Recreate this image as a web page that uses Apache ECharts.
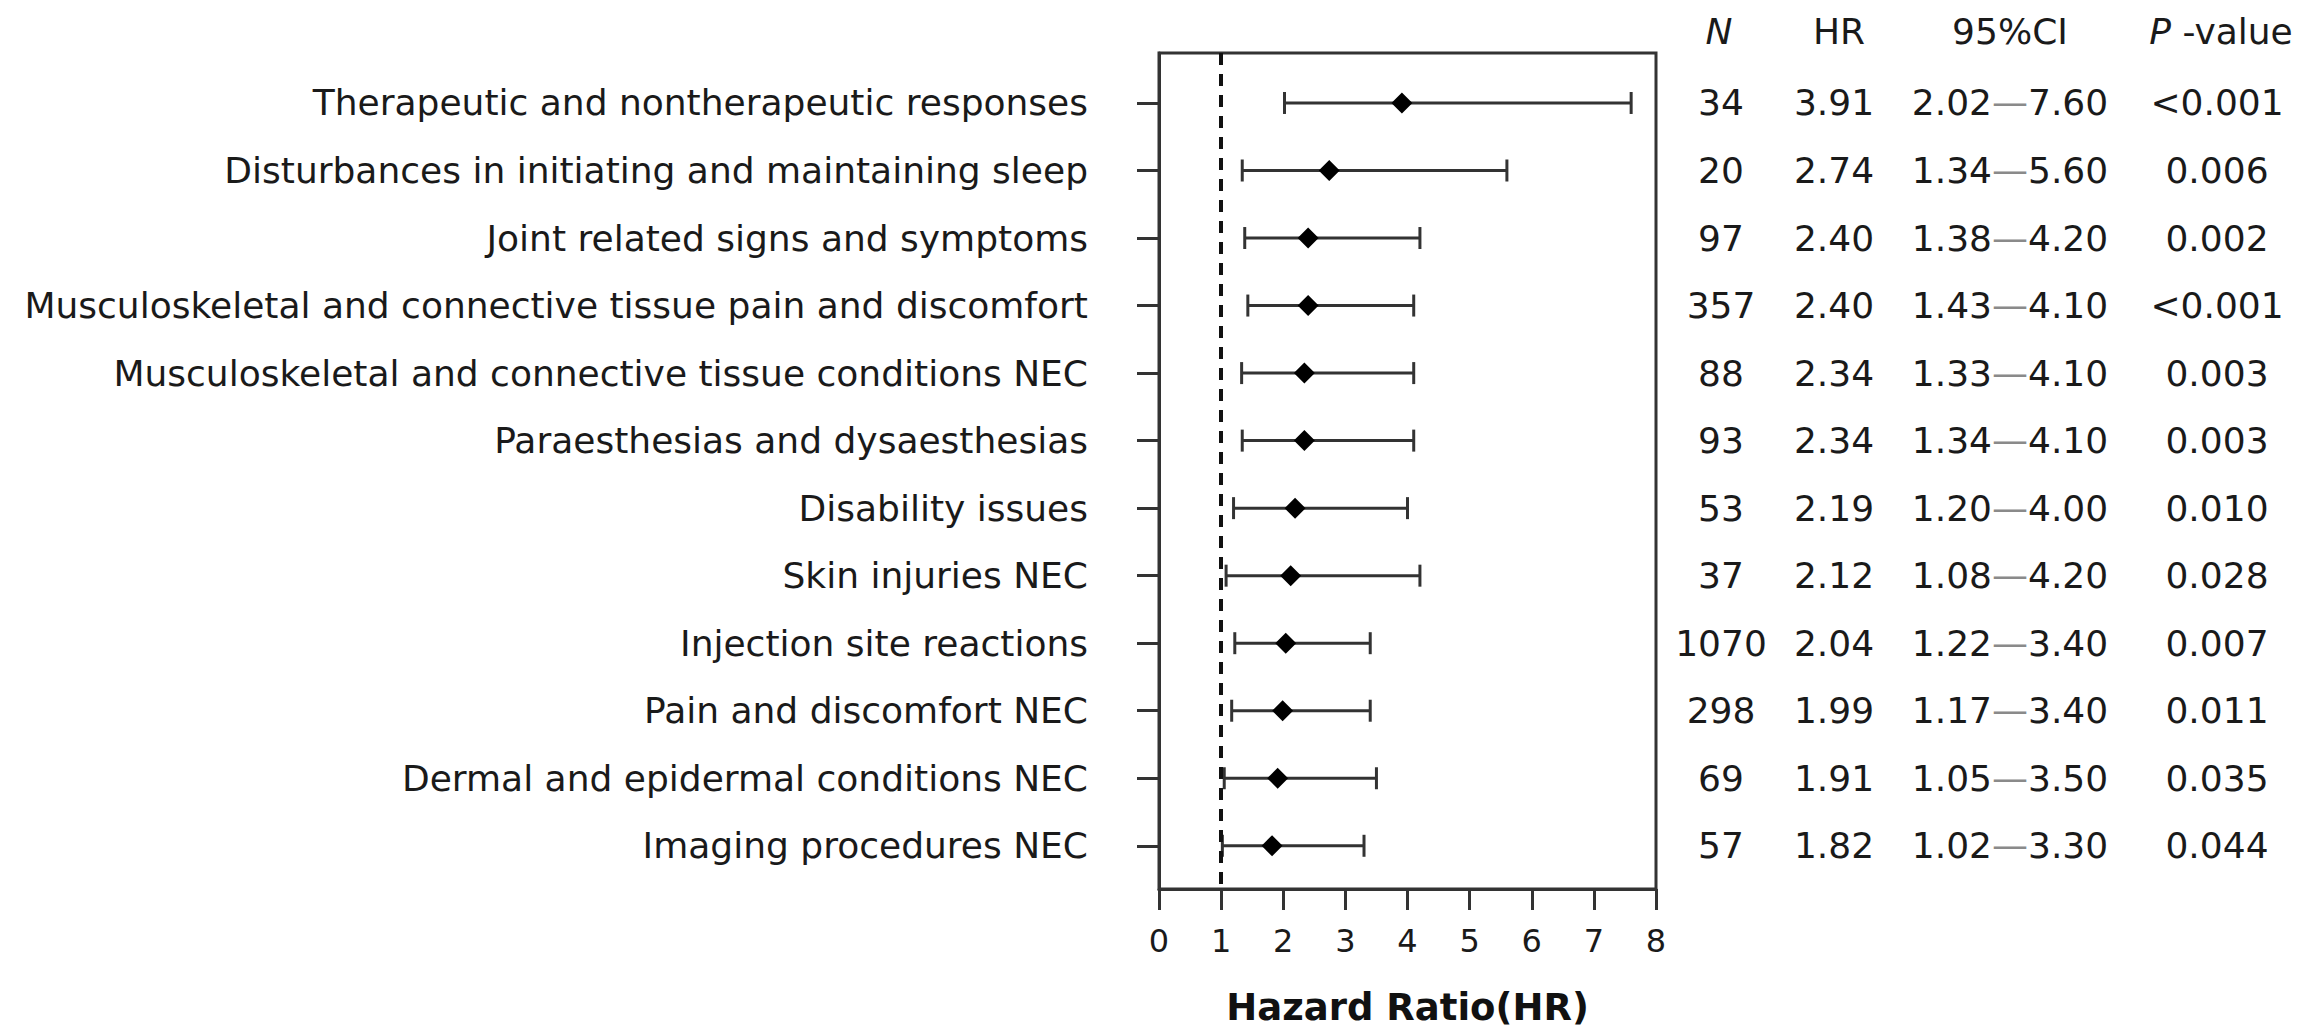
<!DOCTYPE html>
<html>
<head>
<meta charset="utf-8">
<script src="https://cdn.jsdelivr.net/npm/echarts@6/dist/echarts.min.js"></script>
<style>
html,body{margin:0;padding:0;background:#fff;}
#c{width:2298px;height:1032px;}
</style>
</head>
<body>
<div id="c"></div>
<script>
// ---- data (top row first) ----
const categories = [
  'Therapeutic and nontherapeutic responses',
  'Disturbances in initiating and maintaining sleep',
  'Joint related signs and symptoms',
  'Musculoskeletal and connective tissue pain and discomfort',
  'Musculoskeletal and connective tissue conditions NEC',
  'Paraesthesias and dysaesthesias',
  'Disability issues',
  'Skin injuries NEC',
  'Injection site reactions',
  'Pain and discomfort NEC',
  'Dermal and epidermal conditions NEC',
  'Imaging procedures NEC'
];
const nValues  = [34, 20, 97, 357, 88, 93, 53, 37, 1070, 298, 69, 57];
const hrValues = [3.91, 2.74, 2.40, 2.40, 2.34, 2.34, 2.19, 2.12, 2.04, 1.99, 1.91, 1.82];
const ciLower  = [2.02, 1.34, 1.38, 1.43, 1.33, 1.34, 1.20, 1.08, 1.22, 1.17, 1.05, 1.02];
const ciUpper  = [7.60, 5.60, 4.20, 4.10, 4.10, 4.10, 4.00, 4.20, 3.40, 3.40, 3.50, 3.30];
const pValues  = ['<0.001', '0.006', '0.002', '<0.001', '0.003', '0.003', '0.010', '0.028', '0.007', '0.011', '0.035', '0.044'];
const xTicks   = [0, 1, 2, 3, 4, 5, 6, 7, 8];
const refValue = 1;
const headers  = ['N', 'HR', '95%CI', 'P-value'];
const rows = categories.map((_, i) => i + 1);

const FONT = 'DejaVu Sans';
const TXT = '#1a1a1a';
const LINE = '#333333';

const chart = echarts.init(document.getElementById('c'), null, { renderer: 'svg' });

const option = {
  animation: false,
  backgroundColor: '#ffffff',
  grid: {
    left: 1159, right: 642, top: 53, bottom: 143,
    show: true, borderColor: LINE, borderWidth: 3, backgroundColor: 'transparent'
  },
  xAxis: {
    type: 'value',
    min: xTicks[0], max: xTicks[xTicks.length - 1], interval: 1,
    axisLine: { show: true, lineStyle: { color: LINE, width: 3 } },
    axisTick: { show: true, inside: false, length: 21, lineStyle: { color: LINE, width: 3 } },
    axisLabel: { fontSize: 32, fontFamily: FONT, color: TXT, margin: 36 },
    splitLine: { show: false },
    name: 'Hazard Ratio(HR)',
    nameLocation: 'middle',
    nameGap: 100,
    nameTextStyle: { fontSize: 37, fontWeight: 'bold', fontFamily: FONT, color: '#111' }
  },
  yAxis: {
    type: 'value',
    inverse: true,
    min: 0.26, max: 12.64,
    axisLine: { show: true, lineStyle: { color: LINE, width: 3 } },
    axisTick: { show: true, inside: false, length: 22, customValues: rows, lineStyle: { color: LINE, width: 3 } },
    axisLabel: {
      customValues: rows,
      formatter: v => categories[Math.round(v) - 1] || '',
      fontSize: 36, fontFamily: FONT, color: TXT, margin: 71
    },
    splitLine: { show: false }
  },
  series: [
    {
      type: 'custom',
      name: 'CI',
      data: rows.map((r, i) => [ciLower[i], ciUpper[i], r]),
      encode: { x: [0, 1], y: 2 },
      z: 2,
      renderItem: function (params, api) {
        const lo = api.coord([api.value(0), api.value(2)]);
        const hi = api.coord([api.value(1), api.value(2)]);
        const h = 11;
        const st = { stroke: LINE, lineWidth: 3 };
        return {
          type: 'group',
          children: [
            { type: 'line', shape: { x1: lo[0], y1: lo[1], x2: hi[0], y2: hi[1] }, style: st },
            { type: 'line', shape: { x1: lo[0], y1: lo[1] - h, x2: lo[0], y2: lo[1] + h }, style: st },
            { type: 'line', shape: { x1: hi[0], y1: hi[1] - h, x2: hi[0], y2: hi[1] + h }, style: st }
          ]
        };
      }
    },
    {
      type: 'scatter',
      name: 'HR',
      data: rows.map((r, i) => [hrValues[i], r]),
      symbol: 'diamond',
      symbolSize: 21,
      itemStyle: { color: '#000000', opacity: 1 },
      z: 3,
      markLine: {
        silent: true,
        symbol: ['none', 'none'],
        label: { show: false },
        lineStyle: { type: [12, 9], width: 4, color: '#111111' },
        data: [{ xAxis: refValue }]
      }
    },
    {
      type: 'custom',
      name: 'table',
      clip: false,
      data: rows.map((r, i) => [0, r, i]),
      encode: { x: 0, y: 1 },
      renderItem: function (params, api) {
        const i = api.value(2);
        const cs = params.coordSys;
        const R = cs.x + cs.width;
        const y = api.coord([0, api.value(1)])[1];
        const base = { fontSize: 36, fontFamily: FONT, fill: TXT, align: 'center', verticalAlign: 'middle' };
        const children = [
          { type: 'text', x: R + 65, y: y, style: Object.assign({}, base, { text: String(nValues[i]) }) },
          { type: 'text', x: R + 178, y: y, style: Object.assign({}, base, { text: hrValues[i].toFixed(2) }) },
          { type: 'text', x: R + 354, y: y, style: Object.assign({}, base, {
              text: '{v|' + ciLower[i].toFixed(2) + '}{d|\u2014}{v|' + ciUpper[i].toFixed(2) + '}',
              rich: {
                v: { fontSize: 36, fontFamily: FONT, fill: TXT },
                d: { fontSize: 36, fontFamily: FONT, fill: '#8a8a8a' }
              }
            }) },
          { type: 'text', x: R + 561, y: y, style: Object.assign({}, base, { text: pValues[i] }) }
        ];
        if (i === 0) {
          const hy = cs.y - 22;
          children.push(
            { type: 'text', x: R + 63, y: hy, style: Object.assign({}, base, { text: headers[0], fontStyle: 'italic' }) },
            { type: 'text', x: R + 183, y: hy, style: Object.assign({}, base, { text: headers[1] }) },
            { type: 'text', x: R + 354, y: hy, style: Object.assign({}, base, { text: headers[2] }) },
            { type: 'text', x: R + 565, y: hy, style: Object.assign({}, base, {
                text: '{i|' + headers[3].charAt(0) + '} {r|' + headers[3].slice(1) + '}',
                rich: {
                  i: { fontSize: 36, fontFamily: FONT, fill: TXT, fontStyle: 'italic' },
                  r: { fontSize: 36, fontFamily: FONT, fill: TXT }
                }
              }) }
          );
        }
        return { type: 'group', children: children };
      }
    }
  ]
};

chart.setOption(option);
</script>
</body>
</html>
